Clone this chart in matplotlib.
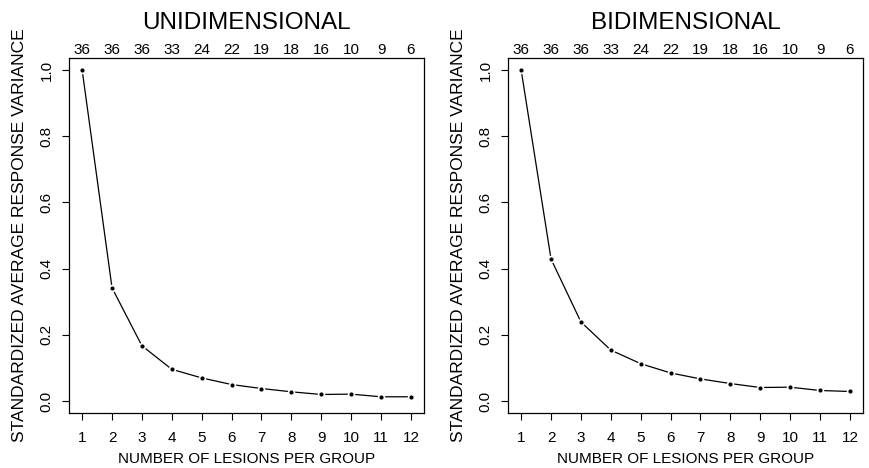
import matplotlib.pyplot as plt
import numpy as np

plt.rcParams['font.family'] = ['Liberation Sans', 'DejaVu Sans']

lesions = [1, 2, 3, 4, 5, 6, 7, 8, 9, 10, 11, 12]
n_groups = [36, 36, 36, 33, 24, 22, 19, 18, 16, 10, 9, 6]
uni = [1.0, 0.342, 0.167, 0.096, 0.070, 0.050, 0.038, 0.028, 0.020, 0.021, 0.013, 0.013]
bi = [1.0, 0.429, 0.239, 0.154, 0.113, 0.085, 0.067, 0.053, 0.041, 0.042, 0.032, 0.029]
titles = ['UNIDIMENSIONAL', 'BIDIMENSIONAL']
yticks = [0.0, 0.2, 0.4, 0.6, 0.8, 1.0]

fig = plt.figure(figsize=(8.7, 4.68), dpi=100)
positions = [[0.0793, 0.1175, 0.4081, 0.7585], [0.5839, 0.1175, 0.4081, 0.7585]]

for pos, vals, title in zip(positions, [uni, bi], titles):
    ax = fig.add_axes(pos)
    # line then points with white ring, like R type="b"
    ax.plot(lesions, vals, color='black', lw=0.9, zorder=2)
    ax.plot(lesions, vals, 'o', color='black', ms=3.2, mec='white', mew=2.2, zorder=3)
    ax.plot(lesions, vals, 'o', color='black', ms=3.0, mew=0, zorder=4)
    ax.set_xlim(0.56, 12.44)
    ax.set_ylim(-0.036, 1.036)
    ax.set_xticks(lesions)
    ax.set_yticks(yticks)
    ax.set_yticklabels(['%.1f' % t for t in yticks], rotation=90, va='center')
    ax.tick_params(direction='out', length=5, width=0.8, labelsize=11, pad=6)
    ax.tick_params(axis='x', pad=8)
    for s in ax.spines.values():
        s.set_linewidth(0.9)
    ax.set_xlabel('NUMBER OF LESIONS PER GROUP', fontsize=11, labelpad=5)
    ax.set_ylabel('STANDARDIZED AVERAGE RESPONSE VARIANCE', fontsize=12.5, labelpad=9)

    top = ax.secondary_xaxis('top')
    top.set_xticks(lesions)
    top.set_xticklabels([str(n) for n in n_groups])
    top.tick_params(length=0, labelsize=11, pad=1)
    top.spines['top'].set_visible(False)
    ax.set_title(title, fontsize=17.5, pad=21)

fig.savefig('out.png', dpi=100)
